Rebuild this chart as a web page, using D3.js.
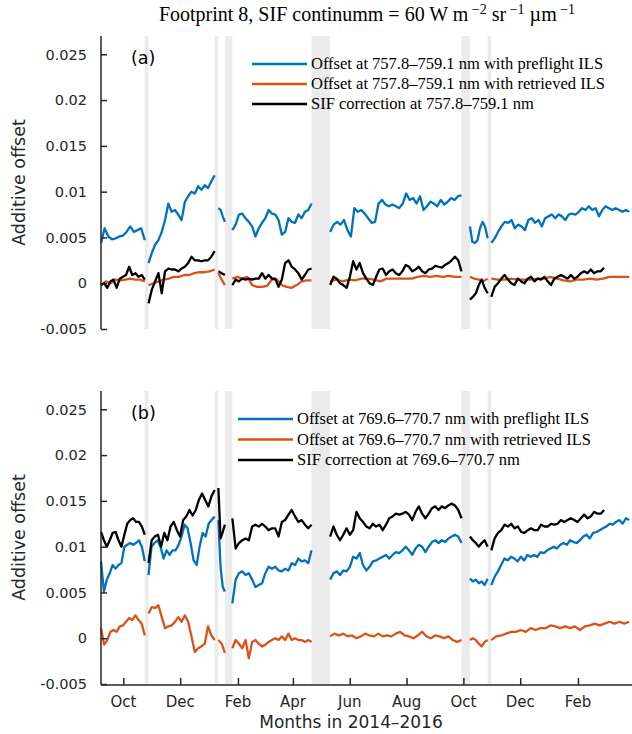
<!DOCTYPE html>
<html><head><meta charset="utf-8">
<script src="https://cdn.jsdelivr.net/npm/d3@7"></script>
<style>body{margin:0;background:#fff;} svg{display:block;}</style>
</head><body><svg id="chart" width="632" height="734"></svg>
<script>
// values below are in units of 1e-3 (additive offset)
const MILLI = 0.001;

// contiguous data segments (start, end) between the grey gap bands
const segmentSpans = [
  ["2014-09-07","2014-10-24"], ["2014-10-28","2015-01-07"], ["2015-01-11","2015-01-18"],
  ["2015-01-26","2015-04-21"], ["2015-05-11","2015-09-29"], ["2015-10-08","2015-10-27"],
  ["2015-10-31","2016-03-27"]
];
const sifLastDay = "2016-02-29";
const gapBands = [
  ["2014-10-24","2014-10-28"], ["2015-01-07","2015-01-11"], ["2015-01-18","2015-01-26"],
  ["2015-04-21","2015-05-11"], ["2015-09-29","2015-10-08"], ["2015-10-27","2015-10-31"]
];
const xDomain = ["2014-09-07","2016-03-30"];
const xTickDates = ["2014-10-01","2014-12-01","2015-02-01","2015-04-01","2015-06-01","2015-08-01","2015-10-01","2015-12-01","2016-02-01"];
const xTickLabels = ["Oct","Dec","Feb","Apr","Jun","Aug","Oct","Dec","Feb"];
const yTickValues = [-0.005, 0, 0.005, 0.01, 0.015, 0.02, 0.025];
const yTickLabels = ["-0.005","0","0.005","0.01","0.015","0.02","0.025"];

// ---- panel (a) 757.8–759.1 nm ----
const preflightA = [
  [4.4,6.0,5.1,4.8,4.9,5.1,5.2,5.6,6.2,5.6,5.8,6.0,4.7],
  [2.2,3.3,4.2,4.7,5.6,6.9,8.7,7.8,8.0,7.5,6.9,8.9,9.5,10.0,9.8,10.6,10.2,10.7,10.4,11.1,11.8],
  [8.2,8.0,7.3,6.7],
  [5.8,6.4,7.5,7.6,7.1,6.7,6.2,5.1,6.0,6.6,7.1,8.0,7.6,7.5,6.9,5.3,5.6,7.1,6.7,6.6,7.5,7.1,7.8,8.0,8.7],
  [5.6,6.4,6.7,6.4,6.9,5.8,5.1,8.2,7.8,8.0,7.6,7.1,6.6,6.7,8.7,9.1,8.6,8.4,8.6,8.4,8.2,8.7,9.8,9.1,9.3,8.7,9.5,8.0,8.4,8.9,8.7,8.4,9.1,8.6,8.9,9.3,9.1,9.5,9.6],
  [6.2,4.5,4.4,4.7,6.0,6.7,6.2,4.9],
  [4.4,4.9,5.6,6.2,6.7,6.6,6.9,6.0,6.4,6.2,5.8,6.9,7.1,6.6,6.9,6.2,7.1,7.3,7.5,7.1,7.5,7.3,6.9,7.5,7.6,7.5,7.8,8.2,8.0,8.4,8.0,8.2,7.3,8.0,8.4,8.2,8.0,8.2,8.0,7.8,8.0,7.8]
];
const retrievedA = [
  [-0.2,0.2,0,0.4,0.3,0.4,0.5,0.4,0.4,0.2],
  [-0.2,0,0.2,0.4,0.5,0.7,0.7,0.9,0.9,1.1,1.2,1.2,1.3,1.5],
  [1.1,0.4,-0.2],
  [0.5,0.7,0.5,0.7,-0.2,-0.4,-0.4,-0.3,0.4,0.4,-0.2,-0.4,-0.5,-0.2,0.2,0.3,0.3],
  [0.2,0.4,0.2,0.4,0.3,0.5,0.5,0.4,0.2,0.5,0.5,0.5,0.5,0.5,0.7,0.8,0.7,0.8,0.7,0.8,0.7,0.7],
  [0.7,0.5,0.4,0.2,0.5],
  [0.5,0.4,0.4,0.5,0.4,0.4,0.4,0.5,0.5,0.7,0.5,0.3,0.2,0.4,0.4,0.5,0.4,0.5,0.7,0.7,0.7,0.7]
];
const sifCorrA = [
  [-0.2,0,-0.5,0.2,0.4,-0.5,0.5,0.7,0.9,1.8,0.9,1.1,0.7,0.9,0.4],
  [-2.2,-0.7,0.2,1.1,-1.1,1.3,1.6,1.5,1.5,1.3,1.6,1.8,2.2,2.9,2.5,2.5,2.4,2.5,2.5,2.9,3.5],
  [1.3,1.1,0.9],
  [-0.2,0.4,0.2,0.5,0.4,0.5,0.4,0.5,0.5,1.1,0.5,0.9,0.5,0.5,-0.4,0.4,2.2,2.5,1.8,1.5,1.1,0.4,0.9,1.5,1.6],
  [-0.2,0.7,0.5,0,-0.2,-0.5,0.7,2.4,1.5,2.2,1.1,0.5,0,-0.2,0.7,1.5,1.6,0.9,1.3,1.5,1.1,0.9,1.3,2.0,1.8,1.3,1.5,1.8,1.3,1.1,1.5,1.6,1.9,1.8,1.7,2.0,2.2,2.5,2.9,2.5,1.3],
  [-1.8,-1.5,-1.1,-0.2,0.4,-0.5,-1.1],
  [-1.5,-0.4,0,0.5,0.9,0.4,0,-0.2,0.5,0.2,0,0.5,0.7,0.2,0.5,0.4,0.7,0.2,-0.2,0.5,0.7,0.9,0.7,0.5,0.9,0.5,0.7,1.1,1.3,1.1,1.5,1.1,1.3,1.3,1.7]
];

// ---- panel (b) 769.6–770.7 nm ----
const preflightB = [
  [8.4,5.1,6.4,7.1,8.0,7.6,8.0,8.2,10.0,10.2,10.4,10.2,10.4,10.7,10.0,8.4],
  [6.9,10.0,10.4,10.7,10.0,8.7,9.6,9.1,9.6,9.6,10.2,11.1,12.4,12.0,10.4,8.5,8.0,10.0,11.5,11.1,12.5,12.9,13.3],
  [12.9,7.8,5.6,5.1],
  [3.8,6.4,7.1,7.3,6.9,7.1,6.4,5.6,5.8,6.0,7.1,7.8,7.6,7.8,7.4,7.3,7.6,7.4,8.2,8.0,8.7,8.4,8.5,8.2,9.6],
  [6.4,7.1,7.3,6.9,7.4,7.3,7.8,8.9,8.7,9.3,8.0,7.4,7.8,8.4,8.5,8.7,8.9,9.1,8.7,9.1,9.4,9.3,9.6,10.0,9.6,9.1,9.8,10.2,10.0,9.4,10.0,10.5,10.7,10.4,10.7,10.5,10.9,11.1,11.3,11.1,10.4],
  [6.5,6.2,6.4,6.0,6.2,5.8,6.5],
  [5.8,6.7,7.3,8.0,8.7,8.5,8.9,8.7,8.4,8.9,8.5,9.1,8.9,9.1,8.9,9.4,9.3,9.6,9.8,10.0,9.8,10.2,10.4,10.2,10.7,10.5,10.4,10.7,11.1,11.3,10.9,11.5,11.6,11.8,12.0,12.2,12.5,12.4,12.7,12.9,12.5,13.1,12.9]
];
const retrievedB = [
  [1.1,-0.7,-0.2,0.7,0.9,0.7,1.3,1.4,1.8,2.2,2.0,2.5,2.0,1.6,0.3],
  [2.7,3.4,3.3,3.6,2.3,1.1,1.3,1.4,1.8,2.3,1.8,2.5,1.8,0.2,-1.5,-1.1,-0.9,-0.6,1.3,0.3,-0.2],
  [-0.2,-0.6,-1.6],
  [-1.1,-0.2,-0.6,-1.1,-0.2,-2.2,-0.4,-0.2,-0.6,-0.9,-0.7,-0.4,-0.2,0,-0.2,0.2,-0.2,0.5,-0.2,0,-0.2,-0.2,-0.4,-0.2,-0.4],
  [0.2,0.5,0.3,0.5,0.2,0.3,0,0.2,0.5,0.3,0.2,0.5,0.2,0.3,0.2,0.5,0.7,0.3,0.2,0,0.3,0.7,0.2,0,0.3,0.2,0,0.2,-0.2,-0.4,-0.2],
  [-0.2,0,-0.2,-0.6,-0.9,-0.4,-0.2],
  [-0.2,0.2,0.3,0.5,0.7,0.7,0.9,0.7,1.1,0.9,1.1,1.1,1.4,1.3,1.1,1.3,1.1,1.3,0.9,1.3,1.4,1.6,1.4,1.6,1.8,1.6,1.8,1.6,1.8]
];
const sifCorrB = [
  [11.6,10.7,10.0,10.7,11.5,11.6,10.7,10.0,11.3,12.5,12.9,13.1,12.7,12.7,12.2,11.3],
  [8.2,10.7,11.1,11.3,10.0,11.5,10.7,12.2,12.7,11.8,11.1,12.9,13.3,14.0,13.4,14.0,15.1,15.8,15.1,14.4,15.5,16.2],
  [16.4,10.9,11.6,12.4],
  [13.1,9.8,10.4,10.7,10.9,10.7,12.2,12.4,12.2,12.5,12.2,11.8,12.0,12.0,11.1,12.7,12.9,13.5,14.0,13.3,12.7,12.9,12.4,12.0,12.4],
  [11.1,12.2,11.3,10.7,11.3,12.0,11.3,11.8,13.8,13.1,12.7,12.2,12.0,12.5,12.2,12.4,11.8,12.4,13.1,13.3,13.6,13.5,13.6,13.8,13.5,12.9,13.8,14.4,13.6,13.1,13.6,14.2,14.4,14.0,14.4,14.2,14.5,14.7,14.5,14.0,13.1],
  [11.1,10.7,10.4,10.0,10.4,10.7,10.0],
  [9.6,10.9,11.5,11.8,12.4,12.2,12.5,12.0,12.2,11.6,11.5,11.8,12.0,11.8,11.8,12.4,12.2,12.2,12.5,12.4,12.5,12.9,12.7,12.9,13.1,12.9,12.7,13.1,13.5,13.1,13.3,13.8,13.6,13.6,14.0]
];

const legendA = ["Offset at 757.8–759.1 nm with preflight ILS","Offset at 757.8–759.1 nm with retrieved ILS","SIF correction at 757.8–759.1 nm"];
const legendB = ["Offset at 769.6–770.7 nm with preflight ILS","Offset at 769.6–770.7 nm with retrieved ILS","SIF correction at 769.6–770.7 nm"];
const seriesColors = ["#0072BD","#D95319","#000000"];
const panelLabels = ["(a)","(b)"];

// ---------------- drawing ----------------
const parse = d3.utcParse("%Y-%m-%d");
const svg = d3.select("#chart");
const AX = "#262626";
const SANS = "'DejaVu Sans', sans-serif";
const SERIF = "'Liberation Serif', 'Times New Roman', serif";

const x = d3.scaleUtc().domain(xDomain.map(parse)).range([101, 632]);

function toPoints(segs, lastEnd) {
  const out = [];
  segs.forEach((vals, k) => {
    const s = parse(segmentSpans[k][0]);
    const e = (k === segs.length - 1 && lastEnd) ? parse(lastEnd) : parse(segmentSpans[k][1]);
    vals.forEach((v, i) => out.push({date: new Date(+s + (e - s) * i / (vals.length - 1)), value: v * MILLI}));
    out.push(null);
  });
  return out;
}

function drawPanel(cfg) {
  const y = d3.scaleLinear().domain([-0.005, 0.027]).range([cfg.bottom, cfg.top]);
  const g = svg.append("g");
  g.selectAll("rect.band").data(gapBands).join("rect")
    .attr("x", d => x(parse(d[0]))).attr("width", d => x(parse(d[1])) - x(parse(d[0])))
    .attr("y", cfg.top).attr("height", cfg.bottom - cfg.top + (cfg.xAxis ? 1 : 0))
    .attr("fill", "#ebebeb");
  const line = d3.line().defined(d => d !== null).x(d => x(d.date)).y(d => y(d.value));
  cfg.series.forEach((s, i) => {
    g.append("path").datum(toPoints(s, i === 2 ? sifLastDay : null))
      .attr("d", line).attr("fill", "none").attr("stroke", seriesColors[i])
      .attr("stroke-width", 2.3).attr("stroke-linejoin", "round");
  });
  const yAxis = d3.axisRight(y).tickValues(yTickValues).tickSize(6).tickFormat("");
  const ya = g.append("g").attr("transform", "translate(101,0)").call(yAxis);
  ya.select(".domain").attr("d", `M0,${cfg.top}V${cfg.bottom + (cfg.xAxis ? 1 : 0)}`);
  ya.selectAll("path,line").attr("stroke", AX).attr("stroke-width", 1.5);
  g.selectAll("text.ytl").data(yTickValues).join("text")
    .attr("x", 87).attr("y", d => y(d)).attr("dy", "0.36em").attr("text-anchor", "end")
    .attr("font-family", SANS).attr("font-size", 14.5).attr("fill", AX)
    .text((d, i) => yTickLabels[i]);
  g.append("text").attr("transform", `translate(25,${(cfg.top + cfg.bottom) / 2}) rotate(-90)`)
    .attr("text-anchor", "middle").attr("font-family", SANS).attr("font-size", 17.5).attr("fill", AX)
    .text("Additive offset");
  g.append("text").attr("x", 131).attr("y", cfg.top + 28).attr("font-family", SANS)
    .attr("font-size", 17.5).attr("fill", "#000").text(cfg.label);
  cfg.legend.forEach((t, i) => {
    const ly = cfg.legendY + i * cfg.legendDy;
    g.append("line").attr("x1", cfg.legendX0).attr("x2", cfg.legendX1).attr("y1", ly).attr("y2", ly)
      .attr("stroke", seriesColors[i]).attr("stroke-width", 2.3);
    g.append("text").attr("x", cfg.legendX1 + 4).attr("y", ly).attr("dy", "0.33em")
      .attr("font-family", SERIF).attr("font-size", 16.5).attr("fill", "#000").text(t);
  });
  if (cfg.xAxis) {
    const xAxis = d3.axisTop(x).tickValues(xTickDates.map(parse)).tickSize(7).tickFormat("");
    const xa = g.append("g").attr("transform", `translate(0,${cfg.bottom + 1})`).call(xAxis);
    xa.select(".domain").attr("d", "M101,0H632");
    xa.selectAll("path,line").attr("stroke", AX).attr("stroke-width", 1.5);
    g.selectAll("text.xtl").data(xTickDates).join("text")
      .attr("x", d => x(parse(d))).attr("y", 707).attr("text-anchor", "middle")
      .attr("font-family", SANS).attr("font-size", 15).attr("fill", AX)
      .text((d, i) => xTickLabels[i]);
    g.append("text").attr("x", 351).attr("y", 728).attr("text-anchor", "middle")
      .attr("font-family", SANS).attr("font-size", 17).attr("fill", AX).text("Months in 2014–2016");
  }
}

drawPanel({top: 36, bottom: 329, series: [preflightA, retrievedA, sifCorrA], legend: legendA,
  legendX0: 252, legendX1: 307, legendY: 64, legendDy: 20, label: panelLabels[0], xAxis: false});
drawPanel({top: 391, bottom: 684, series: [preflightB, retrievedB, sifCorrB], legend: legendB,
  legendX0: 238, legendX1: 293, legendY: 419, legendDy: 20.5, label: panelLabels[1], xAxis: true});

const title = svg.append("text").attr("x", 367).attr("y", 21).attr("text-anchor", "middle")
  .attr("font-family", SERIF).attr("font-size", 20).attr("fill", "#000");
title.append("tspan").text("Footprint 8, SIF continumm = 60 W m");
title.append("tspan").attr("dy", -7).attr("font-size", 14).text(" −2");
title.append("tspan").attr("dy", 7).text(" sr");
title.append("tspan").attr("dy", -7).attr("font-size", 14).text(" −1");
title.append("tspan").attr("dy", 7).text(" µm");
title.append("tspan").attr("dy", -7).attr("font-size", 14).text(" −1");
</script></body></html>
